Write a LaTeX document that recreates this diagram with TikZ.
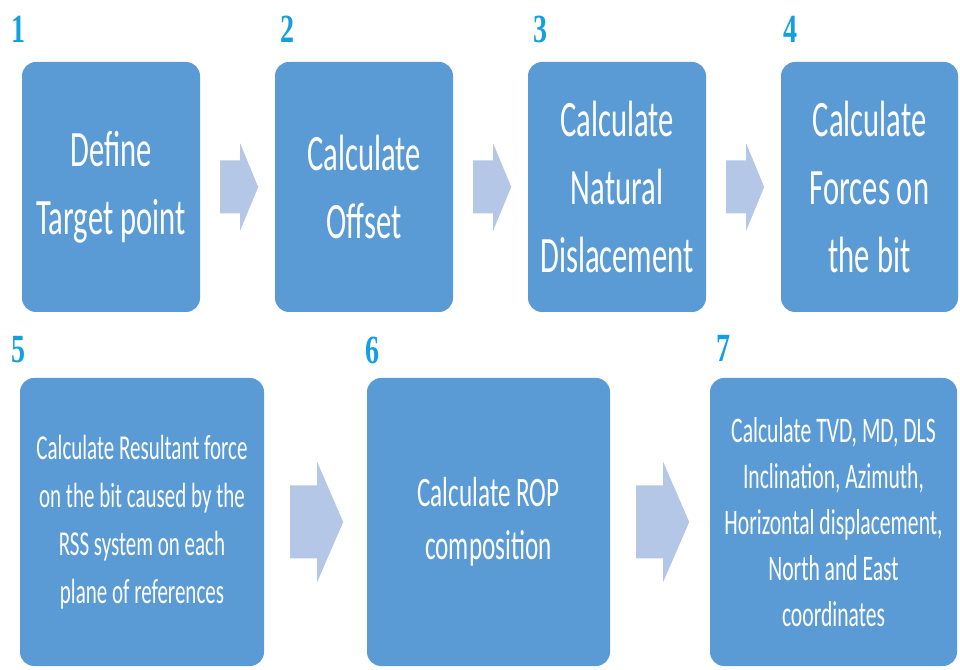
\documentclass[tikz,border=0pt]{standalone}
\usepackage{fontspec}
\setmainfont{Carlito}[FakeStretch=0.6]
\newfontfamily\numfont{Liberation Serif}[FakeStretch=0.7]
\usetikzlibrary{calc}
\definecolor{boxblue}{HTML}{5B9BD5}
\definecolor{arrowblue}{HTML}{B4C7E7}
\definecolor{numblue}{HTML}{12A0E2}
\tikzset{
  stepbox/.style={fill=boxblue, rounded corners=14pt, text=white, align=center, inner sep=0pt},
  bigtext/.style={font=\fontsize{51}{68}\selectfont},
  midtext/.style={font=\fontsize{42}{53}\selectfont},
  fivetext/.style={font=\fontsize{35}{48}\selectfont},
  seventext/.style={font=\fontsize{36}{46}\selectfont},
  numlabel/.style={text=numblue, font=\numfont\bfseries\fontsize{40}{40}\selectfont, inner sep=0pt},
  blockarrow/.style={fill=arrowblue}
}
\begin{document}
\begin{tikzpicture}[x=1pt,y=1pt]
\fill[white] (0,0) rectangle (960,669);
\useasboundingbox (0,0) rectangle (960,669);
% row 1 boxes
\node[stepbox, bigtext, minimum width=178pt, minimum height=250pt] (b1) at (111,482) {Define\\Target point};
\node[stepbox, bigtext, minimum width=178pt, minimum height=250pt] (b2) at (364,482) {Calculate\\Offset};
\node[stepbox, bigtext, minimum width=178pt, minimum height=250pt] (b3) at (617,482) {Calculate\\Natural\\Dislacement};
\node[stepbox, bigtext, minimum width=177pt, minimum height=250pt] (b4) at (869.5,482) {Calculate\\Forces on\\the bit};
% row 2 boxes
\node[stepbox, fivetext, minimum width=244pt, minimum height=288pt] (b5) at (142,147) {Calculate Resultant force\\on the bit caused by the\\RSS system on each\\plane of references};
\node[stepbox, midtext, minimum width=243pt, minimum height=288pt] (b6) at (488.5,147) {Calculate ROP\\composition};
\node[stepbox, seventext, minimum width=247pt, minimum height=288pt] (b7) at (833.5,147) {Calculate TVD, MD, DLS\\Inclination, Azimuth,\\Horizontal displacement,\\North and East\\coordinates};
% numbers
\node[numlabel] (n1) at (18,640) {1};
\node[numlabel] (n2) at (287,640) {2};
\node[numlabel] (n3) at (540,640) {3};
\node[numlabel] (n4) at (790,640) {4};
\node[numlabel] (n5) at (18,319) {5};
\node[numlabel] (n6) at (372,319) {6};
\node[numlabel] (n7) at (723,321) {7};
% row 1 arrows
\foreach \a/\b in {b1/b2, b2/b3, b3/b4}{
  \coordinate (s) at ($(\a.east)+(20,0)$);
  \fill[blockarrow] (s) ++(0,26.5) -- ++(20,0) -- ++(0,17) -- ++(18,-43.5) -- ++(-18,-43.5) -- ++(0,17) -- ++(-20,0) -- cycle;
}
% row 2 arrows
\foreach \a/\b in {b5/b6, b6/b7}{
  \coordinate (s) at ($(\a.east)+(26,0)$);
  \fill[blockarrow] (s) ++(0,36.5) -- ++(27,0) -- ++(0,23.5) -- ++(26,-60) -- ++(-26,-60) -- ++(0,23.5) -- ++(-27,0) -- cycle;
}
\end{tikzpicture}
\end{document}
